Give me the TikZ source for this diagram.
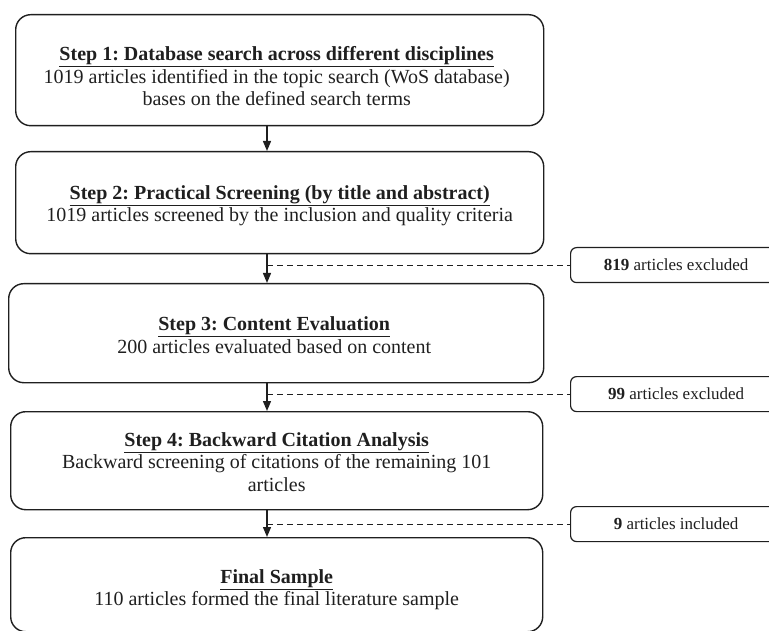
\documentclass[tikz,border=0pt]{standalone}
\usepackage{fontspec}
\setmainfont{Liberation Serif}
\usetikzlibrary{arrows.meta}
\frenchspacing
\newcommand\myul[1]{\leavevmode\vtop{\hbox{#1}\kern1.2pt\hrule height 1.2pt}}
\begin{document}
\begin{tikzpicture}[x=1pt,y=-1pt,
  mainbox/.style={draw=black!88, line width=1.4pt, rounded corners=15pt, anchor=north west,
    inner sep=0pt},
  steptext/.style={align=center, inner sep=0pt, text=black!88,
    font=\fontsize{20}{22.5}\selectfont},
  sidebox/.style={draw=black!88, line width=1.2pt, rounded corners=6pt, anchor=north west,
    inner sep=0pt, minimum width=211pt, minimum height=35pt, text=black!88,
    font=\fontsize{17}{19}\selectfont},
  arr/.style={draw=black!88, line width=1.3pt, -{Triangle[length=10pt,width=8pt]}},
  dashline/.style={draw=black!88, line width=1pt, dash pattern=on 6pt off 4pt}]
\useasboundingbox (0,0) rectangle (769,631);
\clip (0,0) rectangle (769,631);
\node[mainbox, minimum width=528pt, minimum height=111pt] (b1) at (15,14) {};
\node[mainbox, minimum width=528pt, minimum height=102pt] (b2) at (15,151) {};
\node[mainbox, minimum width=535pt, minimum height=99pt] (b3) at (8,283) {};
\node[mainbox, minimum width=532pt, minimum height=98pt] (b4) at (10,411) {};
\node[mainbox, minimum width=532pt, minimum height=94pt] (b5) at (10,537) {};
\node[steptext] (t1) at ([xshift=-3pt,yshift=-6pt]b1.center)
  {\textbf{\myul{Step 1: Database search across different disciplines}}\\
   1019 articles identified in the topic search (WoS database)\\
   bases on the defined search terms};
\node[steptext] (t2) at ([yshift=-3pt]b2.center)
  {\textbf{\myul{Step 2: Practical Screening (by title and abstract)}}\\
   1019 articles screened by the inclusion and quality criteria};
\node[steptext] (t3) at ([xshift=-2pt,yshift=-2pt]b3.center)
  {\textbf{\myul{Step 3: Content Evaluation}}\\
   200 articles evaluated based on content};
\node[steptext] (t4) at ([yshift=-1pt]b4.center)
  {\textbf{\myul{Step 4: Backward Citation Analysis}}\\
   Backward screening of citations of the remaining 101\\
   articles};
\node[steptext] (t5) at ([yshift=-5pt]b5.center)
  {\textbf{\myul{Final Sample}}\\
   110 articles formed the final literature sample};
\node[sidebox] (e1) at (570,247) {\textbf{819} articles excluded};
\node[sidebox] (e2) at (570,376) {\textbf{99} articles excluded};
\node[sidebox] (e3) at (570,506) {\textbf{9} articles included};
\coordinate (ax) at (267,0);
\draw[arr] (b1.south -| ax) -- (b2.north -| ax);
\draw[arr] (b2.south -| ax) -- (b3.north -| ax);
\draw[arr] (b3.south -| ax) -- (b4.north -| ax);
\draw[arr] (b4.south -| ax) -- (b5.north -| ax);
\draw[dashline] (ax |- e1.west) -- (e1.west);
\draw[dashline] (ax |- e2.west) -- (e2.west);
\draw[dashline] (ax |- e3.west) -- (e3.west);
\end{tikzpicture}
\end{document}
